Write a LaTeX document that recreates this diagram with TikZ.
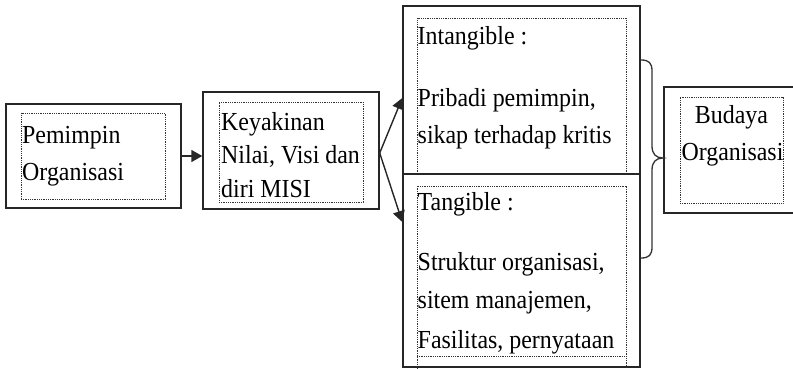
\documentclass[tikz,border=0pt]{standalone}
\usepackage{fontspec}
\setmainfont[FakeStretch=0.92]{Liberation Serif}
\usetikzlibrary{arrows.meta,calc}
\begin{document}
\begin{tikzpicture}[x=1pt,y=-1pt,
  box/.style={draw=black!85, line width=1.4pt, inner sep=0pt, fill=white},
  dotbox/.style={draw=black!80, line width=0.8pt, dash pattern=on 0.9pt off 0.9pt, inner sep=0pt},
  dotline/.style={draw=black!80, line width=0.8pt, dash pattern=on 0.9pt off 0.9pt},
  txt/.style={anchor=base west, inner sep=0pt, font=\fontsize{26}{30}\selectfont},
  ctxt/.style={anchor=base, inner sep=0pt, font=\fontsize{26}{30}\selectfont},
  conn/.style={line width=1.4pt, draw=black!85, -{Triangle[length=11pt,width=12pt]}},
  bracestyle/.style={line width=1.3pt, draw=black!80}]
\useasboundingbox[fill=white] (0,0) rectangle (793,368);

% Box 1
\node[box, minimum width=175pt, minimum height=104pt] (b1) at (93.5,156) {};
\node[dotbox, minimum width=144pt, minimum height=86pt] (i1) at (93,156) {};
\node[txt] (t1a) at (22,143) {Pemimpin};
\node[txt] (t1b) at (22,180) {Organisasi};

% Box 2
\node[box, minimum width=176pt, minimum height=117pt] (b2) at (291,150.5) {};
\node[dotbox, minimum width=144pt, minimum height=100pt] (i2) at (291,152) {};
\node[txt] (t2a) at (221,130) {Keyakinan};
\node[txt] (t2b) at (221,163) {Nilai, Visi dan};
\node[txt] (t2c) at (221,197) {diri MISI};

% Box 3 (Intangible)
\node[box, minimum width=237pt, minimum height=168pt] (b3) at (521.5,90) {};
\draw[dotline] (417,174) -- (417,18) -- (626,18) -- (626,174);
\node[txt] (t3a) at (417.5,44) {Intangible :};
\node[txt] (t3b) at (417.5,106) {Pribadi pemimpin,};
\node[txt] (t3c) at (417.5,143) {sikap terhadap kritis};

% Box 4 (Tangible)
\node[box, minimum width=237pt, minimum height=193pt] (b4) at (521.5,270.5) {};
\draw[dotline] (417,372) -- (417,186) -- (626,186) -- (626,372);
\draw[dotline] (417,356) -- (626,356);
\node[txt] (t4a) at (417.5,210) {Tangible :};
\node[txt] (t4b) at (417.5,270) {Struktur organisasi,};
\node[txt] (t4c) at (417.5,308) {sitem manajemen,};
\node[txt] (t4d) at (417.5,348) {Fasilitas, pernyataan};

% Box 5
\node[box, minimum width=140pt, minimum height=126pt] (b5) at (734,150) {};
\node[dotbox, minimum width=103pt, minimum height=106pt] (i5) at (731.5,150) {};
\node[ctxt] (t5a) at (731.5,123) {Budaya};
\node[ctxt] (t5b) at (732.5,160) {Organisasi};

% Connectors
\draw[conn] (b1.east) -- (b1.east -| b2.west);
\coordinate (fork) at ([yshift=-2.5pt]b2.east);
\draw[conn] (fork) -- ([yshift=-8pt]b3.west);
\draw[conn] (fork) -- ([yshift=48.5pt]b4.west);

% Brace
\draw[bracestyle] (641,60) .. controls (649,60) and (652,63) .. (652,71)
  -- (652,146) .. controls (652,154) and (656,158) .. (663,158)
  .. controls (656,158) and (652,162) .. (652,170)
  -- (652,247) .. controls (652,255) and (649,258) .. (641,258);
\end{tikzpicture}
\end{document}
